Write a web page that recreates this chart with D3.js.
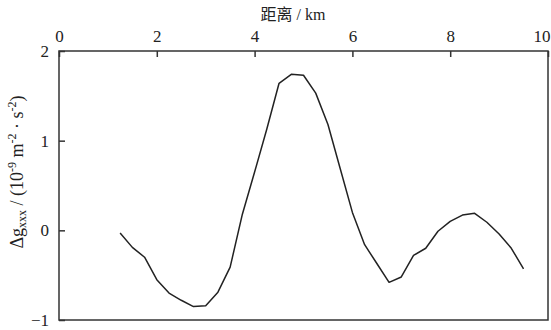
<!DOCTYPE html>
<html><head><meta charset="utf-8">
<script src="https://cdn.jsdelivr.net/npm/d3@7"></script>
<style>body{margin:0;background:#fff}</style>
</head><body><svg id="c" width="551" height="330"></svg>
<script>
const distance = [1.25,1.5,1.75,2.0,2.25,2.5,2.75,3.0,3.25,3.5,3.75,4.0,4.25,4.5,4.75,5.0,5.25,5.5,5.75,6.0,6.25,6.5,6.75,7.0,7.25,7.5,7.75,8.0,8.25,8.5,8.75,9.0,9.25,9.5];
const gxxx = [-0.03,-0.19,-0.30,-0.55,-0.70,-0.78,-0.85,-0.84,-0.69,-0.41,0.18,0.65,1.13,1.64,1.74,1.73,1.53,1.18,0.69,0.20,-0.16,-0.37,-0.58,-0.52,-0.28,-0.20,-0.01,0.10,0.17,0.19,0.09,-0.04,-0.20,-0.43];
const xTicks = [0,2,4,6,8,10];
const yTicks = [-1,0,1,2];

const SERIF = "Liberation Serif, Times New Roman, DejaVu Serif, Noto Sans CJK SC, serif";
const svg = d3.select("#c");
const L = 59, R = 548, T = 51, B = 320;
const x = d3.scaleLinear().domain([0,10]).range([L,R]);
const y = d3.scaleLinear().domain([-1,2]).range([B,T]);

svg.append("rect").attr("x",L).attr("y",T).attr("width",R-L).attr("height",B-T)
  .attr("fill","none").attr("stroke","#333").attr("stroke-width",1.5);

const gx = svg.append("g").attr("transform",`translate(0,${T})`)
  .call(d3.axisTop(x).tickValues(xTicks).tickSize(-6).tickPadding(9).tickFormat(d3.format("d")));
const gy = svg.append("g").attr("transform",`translate(${L},0)`)
  .call(d3.axisLeft(y).tickValues(yTicks).tickSize(-6).tickPadding(10).tickFormat(d=> d<0 ? "\u2212"+Math.abs(d) : d));
[gx,gy].forEach(g=>{
  g.attr("font-family",SERIF).attr("font-size",17);
  g.select(".domain").remove();
  g.selectAll(".tick line").attr("stroke","#333").attr("stroke-width",1.5);
  g.selectAll(".tick text").attr("fill","#222");
});
gx.selectAll(".tick text").filter(d=>d===10).attr("text-anchor","end").attr("dx",2);

svg.append("text").attr("x",293).attr("y",20).attr("text-anchor","middle").attr("font-size",16)
  .attr("font-family",SERIF).attr("fill","#222").text("距离 / km");

const yl = svg.append("text").attr("transform","translate(23,172) rotate(-90)").attr("text-anchor","middle")
  .attr("font-size",18).attr("font-family",SERIF).attr("fill","#222");
yl.append("tspan").text("Δg");
yl.append("tspan").attr("font-size",12).attr("dy",3).text("xxx");
yl.append("tspan").attr("dy",-3).text(" / (10");
yl.append("tspan").attr("font-size",12).attr("dy",-7).text("-9");
yl.append("tspan").attr("dy",7).text(" m");
yl.append("tspan").attr("font-size",12).attr("dy",-7).text("-2");
yl.append("tspan").attr("dy",7).text(" · s");
yl.append("tspan").attr("font-size",12).attr("dy",-7).text("-2");
yl.append("tspan").attr("dy",7).text(")");

svg.append("path").datum(distance.map((d,i)=>[d,gxxx[i]]))
  .attr("fill","none").attr("stroke","#222").attr("stroke-width",1.5).attr("stroke-linejoin","round")
  .attr("d", d3.line().x(d=>x(d[0])).y(d=>y(d[1])));
</script></body></html>
